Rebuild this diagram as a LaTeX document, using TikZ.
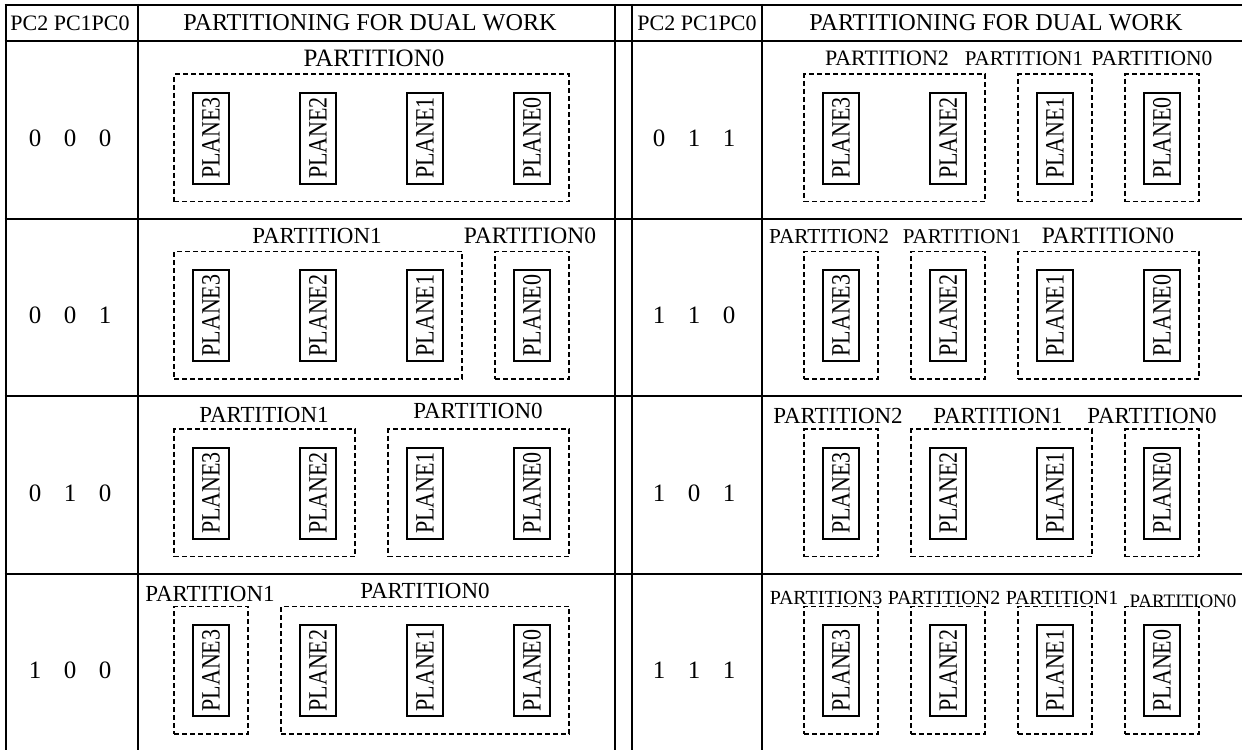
\documentclass[tikz,border=0pt]{standalone}
\usepackage{fontspec}
\setmainfont{Liberation Serif}
\usetikzlibrary{fit,calc}
\newcommand\fs[1]{\fontsize{#1}{#1}\selectfont}
\newcommand\pl[1]{\rotatebox{90}{\scalebox{1}[1.2]{#1}}}
\newcommand\planerow[3]{%
  \node[plane] (#1p3) at (#2,#3) {\pl{PLANE3}};
  \node[plane] (#1p2) at ({#2+107},#3) {\pl{PLANE2}};
  \node[plane] (#1p1) at ({#2+214},#3) {\pl{PLANE1}};
  \node[plane] (#1p0) at ({#2+321},#3) {\pl{PLANE0}};}
\newcommand\pbox[3]{%
  \coordinate (#1nw) at ($(#2.north west)+(-18,-17.5)$);
  \coordinate (#1se) at ($(#3.south east)+(18,17)$);
  \node[partbox, fit={(#1nw) (#1se)}] (#1) {};}
\tikzset{
  gridline/.style={line width=2pt},
  plane/.style={draw, line width=2pt, minimum width=36pt, minimum height=91pt, inner sep=0pt, font=\fs{22}},
  partbox/.style={draw, dash pattern=on 5pt off 3pt, line width=1.8pt, inner sep=0pt},
  lbl/.style={anchor=base, inner sep=0pt},
  digit/.style={inner sep=0pt, font=\fs{25}},
}
\begin{document}
\begin{tikzpicture}[x=1pt,y=-1pt]
\useasboundingbox[fill=white] (0,0) rectangle (1242,750);
% grid
\foreach \yy in {4.7,41,218.5,396,573.5}{\draw[gridline] (4.6,\yy) -- (1242,\yy);}
\foreach \xx in {5.5,138,615,632,762}{\draw[gridline] (\xx,3.8) -- (\xx,750);}
% headers
\node[lbl, font=\fs{22}] (hpcL) at (70,30.5) {PC2 PC1PC0};
\node[lbl, font=\fs{24.2}] (htL) at (370,30.5) {PARTITIONING FOR DUAL WORK};
\node[lbl, font=\fs{22}] (hpcR) at (697,30.5) {PC2 PC1PC0};
\node[lbl, font=\fs{24.2}] (htR) at (996,30.5) {PARTITIONING FOR DUAL WORK};
% digits
\foreach \r/\y/\a/\b/\c in {1/138/0/0/0,2/315.5/0/0/1,3/493/0/1/0,4/670.5/1/0/0}{
  \node[digit] (dL\r a) at (35,\y) {\a};
  \node[digit] (dL\r b) at (70,\y) {\b};
  \node[digit] (dL\r c) at (105,\y) {\c};}
\foreach \r/\y/\a/\b/\c in {1/138/0/1/1,2/315.5/1/1/0,3/493/1/0/1,4/670.5/1/1/1}{
  \node[digit] (dR\r a) at (659,\y) {\a};
  \node[digit] (dR\r b) at (694,\y) {\b};
  \node[digit] (dR\r c) at (729,\y) {\c};}
% planes
\planerow{La}{211}{138}
\planerow{Lb}{211}{315.5}
\planerow{Lc}{211}{493}
\planerow{Ld}{211}{670.5}
\planerow{Ra}{841}{138}
\planerow{Rb}{841}{315.5}
\planerow{Rc}{841}{493}
\planerow{Rd}{841}{670.5}
% row 1 left 000
\pbox{La0}{Lap3}{Lap0}
\node[lbl, font=\fs{25}] (tLa0) at (374,66.5) {PARTITION0};
% row 2 left 001
\pbox{Lb1}{Lbp3}{Lbp1}
\pbox{Lb0}{Lbp0}{Lbp0}
\node[lbl, font=\fs{23}] (tLb1) at (317,243.5) {PARTITION1};
\node[lbl, font=\fs{23.5}] (tLb0) at (530,243.5) {PARTITION0};
% row 3 left 010
\pbox{Lc1}{Lcp3}{Lcp2}
\pbox{Lc0}{Lcp1}{Lcp0}
\node[lbl, font=\fs{23}] (tLc1) at (264,422) {PARTITION1};
\node[lbl, font=\fs{23}] (tLc0) at (478,418) {PARTITION0};
% row 4 left 100
\pbox{Ld1}{Ldp3}{Ldp3}
\pbox{Ld0}{Ldp2}{Ldp0}
\node[lbl, font=\fs{23}] (tLd1) at (210,601) {PARTITION1};
\node[lbl, font=\fs{23}] (tLd0) at (425,598) {PARTITION0};
% row 1 right 011
\pbox{Ra2}{Rap3}{Rap2}
\pbox{Ra1}{Rap1}{Rap1}
\pbox{Ra0}{Rap0}{Rap0}
\node[lbl, font=\fs{22}] (tRa2) at (887,65) {PARTITION2};
\node[lbl, font=\fs{21}] (tRa1) at (1024,65) {PARTITION1};
\node[lbl, font=\fs{21.5}] (tRa0) at (1152,65) {PARTITION0};
% row 2 right 110
\pbox{Rb2}{Rbp3}{Rbp3}
\pbox{Rb1}{Rbp2}{Rbp2}
\pbox{Rb0}{Rbp1}{Rbp0}
\node[lbl, font=\fs{21.3}] (tRb2) at (829,243.5) {PARTITION2};
\node[lbl, font=\fs{21}] (tRb1) at (962,243.5) {PARTITION1};
\node[lbl, font=\fs{23.5}] (tRb0) at (1108,243.5) {PARTITION0};
% row 3 right 101
\pbox{Rc2}{Rcp3}{Rcp3}
\pbox{Rc1}{Rcp2}{Rcp1}
\pbox{Rc0}{Rcp0}{Rcp0}
\node[lbl, font=\fs{23}] (tRc2) at (838,423) {PARTITION2};
\node[lbl, font=\fs{23}] (tRc1) at (998,423) {PARTITION1};
\node[lbl, font=\fs{23}] (tRc0) at (1152,423) {PARTITION0};
% row 4 right 111
\pbox{Rd3}{Rdp3}{Rdp3}
\pbox{Rd2}{Rdp2}{Rdp2}
\pbox{Rd1}{Rdp1}{Rdp1}
\pbox{Rd0}{Rdp0}{Rdp0}
\node[lbl, font=\fs{20}] (tRd3) at (826,604.5) {PARTITION3};
\node[lbl, font=\fs{20}] (tRd2) at (944,604.5) {PARTITION2};
\node[lbl, font=\fs{20}] (tRd1) at (1062,604.5) {PARTITION1};
\node[lbl, font=\fs{19}] (tRd0) at (1183,607) {PARTITION0};
\end{tikzpicture}
\end{document}
